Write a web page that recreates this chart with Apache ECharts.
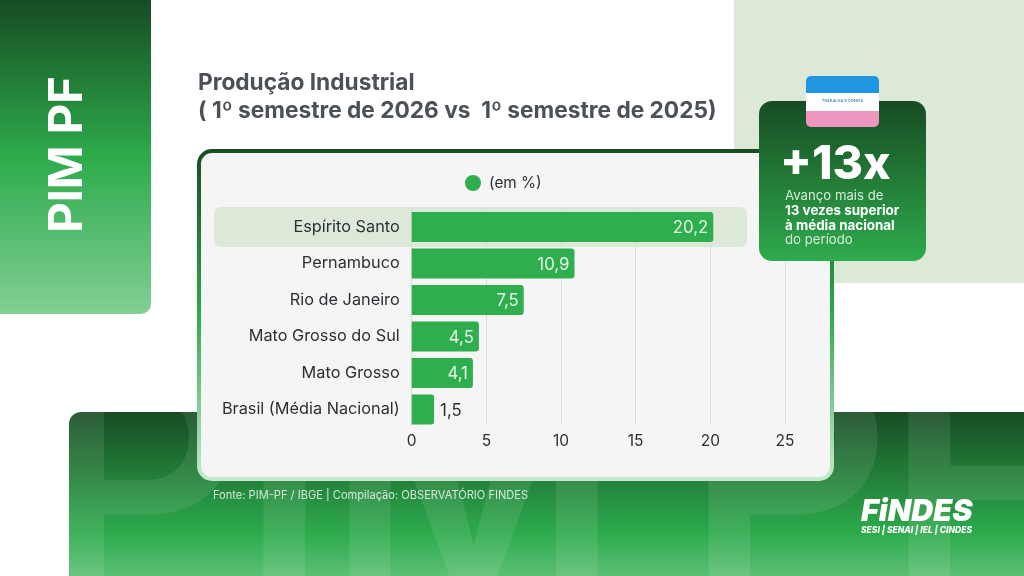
<!DOCTYPE html>
<html><head><meta charset="utf-8">
<style>html,body{margin:0;padding:0;background:#fff}#c{width:1024px;height:576px}</style>
<script src="https://cdn.jsdelivr.net/npm/echarts@6/dist/echarts.min.js"></script>
</head><body><div id="c"></div>
<script>
const categories = ['Espírito Santo','Pernambuco','Rio de Janeiro','Mato Grosso do Sul','Mato Grosso','Brasil (Média Nacional)'];
const values = [20.2,10.9,7.5,4.5,4.1,1.5];
const xTicks = {min:0,max:25,interval:5};
const seriesName = '(em %)';
const FONT = 'Inter, sans-serif';
const G = (stops,x2=0,y2=1)=>({type:'linear',x:0,y:0,x2,y2,colorStops:stops.map(s=>({offset:s[0],color:s[1]}))});
const panelStops = [[0,'#174c23'],[0.5,'#2dab4c'],[1,'#82cf94']];
const fmt = v => String(v).replace('.',',');
const chart = echarts.init(document.getElementById('c'),null,{renderer:'canvas'});
const txt = (x,y,text,font,fill,extra={},z=110,rot=0)=>({type:'text',x,y,z,rotation:rot,silent:true,style:Object.assign({text,font:font+' '+FONT,fill,textVerticalAlign:'middle',textAlign:'left'},extra)});
const ghost = [['P',39],['I',240],['M',326],['P',685],['F',885]].map(g=>
  txt(g[1],497,g[0],'600 320px','rgba(255,255,255,0.09)',{},-29));
chart.setOption({
  animation:false,
  backgroundColor:'#ffffff',
  textStyle:{fontFamily:FONT},
  legend:{show:true,left:460,top:170,itemWidth:16,itemHeight:16,icon:'circle',
    textStyle:{fontFamily:FONT,fontSize:15.3,color:'#2b2f33',padding:[0,0,0,3]},data:[seriesName]},
  grid:{left:411.7,top:208.75,width:373.3,height:219,containLabel:false},
  xAxis:{type:'value',min:xTicks.min,max:xTicks.max,interval:xTicks.interval,
    axisLine:{show:false},axisTick:{show:false},
    splitLine:{show:true,lineStyle:{color:'#dcdcdc',width:1}},
    axisLabel:{fontFamily:FONT,fontSize:15.5,color:'#2b2f33',margin:6,formatter:v=>fmt(v)}},
  yAxis:{type:'category',inverse:true,data:categories,
    axisLine:{show:true,lineStyle:{color:'#dcdcdc',width:1}},axisTick:{show:false},
    axisLabel:{fontFamily:FONT,fontSize:16.3,color:'#2b2f33',margin:12,padding:[5,0,0,0]}},
  series:[{type:'bar',name:seriesName,z:5,barWidth:30,
    itemStyle:{color:'#2fae4d',borderRadius:[0,3,3,0]},
    label:{show:true,position:'insideRight',distance:5,offset:[0,1],fontFamily:FONT,fontSize:16.8,color:'#e6f5e9',formatter:p=>fmt(p.value)},
    data:values.map(v=>v<2?{value:v,label:{position:'right',color:'#2b2f33',distance:6}}:{value:v})}],
  graphic:{elements:[
    {type:'rect',z:-30,silent:true,shape:{x:734,y:0,width:290,height:283},style:{fill:'#dce9d8'}},
    {type:'rect',z:-30,silent:true,shape:{x:0,y:0,width:151,height:314,r:[0,0,10,0]},style:{fill:G(panelStops)}},
    txt(68,154.5,'PIM PF','700 47px','#ffffff',{textAlign:'center'},-29,Math.PI/2),
    {type:'rect',z:-30,silent:true,shape:{x:69,y:412,width:955,height:164,r:[12,0,0,0]},
      style:{fill:G([[0,'#174c23'],[0.74,'#2dab4c'],[1,'#5cbf73']])}},
    ...ghost,
    {type:'rect',z:-20,silent:true,shape:{x:199,y:151,width:633,height:328,r:13},
      style:{fill:'#f5f5f5',stroke:G([[0,'#174c23'],[0.5,'#2dab4c'],[1,'#c9e9cf']]),lineWidth:4}},
    {type:'rect',z:-10,silent:true,shape:{x:214,y:207,width:533,height:40,r:7},style:{fill:'#dce9d8'}},
    {type:'rect',z:3,silent:true,shape:{x:405,y:425,width:400,height:4},style:{fill:'#f5f5f5'}},
    txt(198,83.5,'Produção Industrial','700 22.7px','#4b5157'),
    txt(198,111.5,'( 1º semestre de 2026 vs  1º semestre de 2025)','700 22.7px','#4b5157'),
    txt(213,496,'Fonte: PIM-PF / IBGE | Compilação: OBSERVATÓRIO FINDES','400 11.1px','#d2ead7'),
    {type:'rect',z:100,silent:true,shape:{x:759,y:101,width:167,height:160,r:13},style:{fill:G([[0,'#174c23'],[1,'#2fab4c']])}},
    {type:'rect',z:101,silent:true,shape:{x:806,y:76,width:73,height:51,r:5},style:{fill:G([[0,'#2196e0'],[0.33,'#2196e0'],[0.33,'#ffffff'],[0.68,'#ffffff'],[0.68,'#ee96bf'],[1,'#ee96bf']])}},
    txt(842.5,101,'TRABALHA E CONFIA','500 4px','#3a7ea8',{textAlign:'center'}),
    txt(780,165,'+13x','800 46.5px','#ffffff'),
    txt(785,196,'Avanço mais de','400 13.2px','#d5ecd9'),
    txt(785,211,'13 vezes superior','700 13.4px','#ffffff'),
    txt(785,226,'à média nacional','700 13.4px','#ffffff'),
    txt(785,240,'do período','400 13.2px','#d5ecd9'),
    txt(861,512,'FiNDES','italic 900 30.5px','#ffffff',{},10),
    txt(861,530,'SESI | SENAI | IEL | CINDES','italic 800 8.5px','#ffffff',{},10)
  ]}
});
</script></body></html>
